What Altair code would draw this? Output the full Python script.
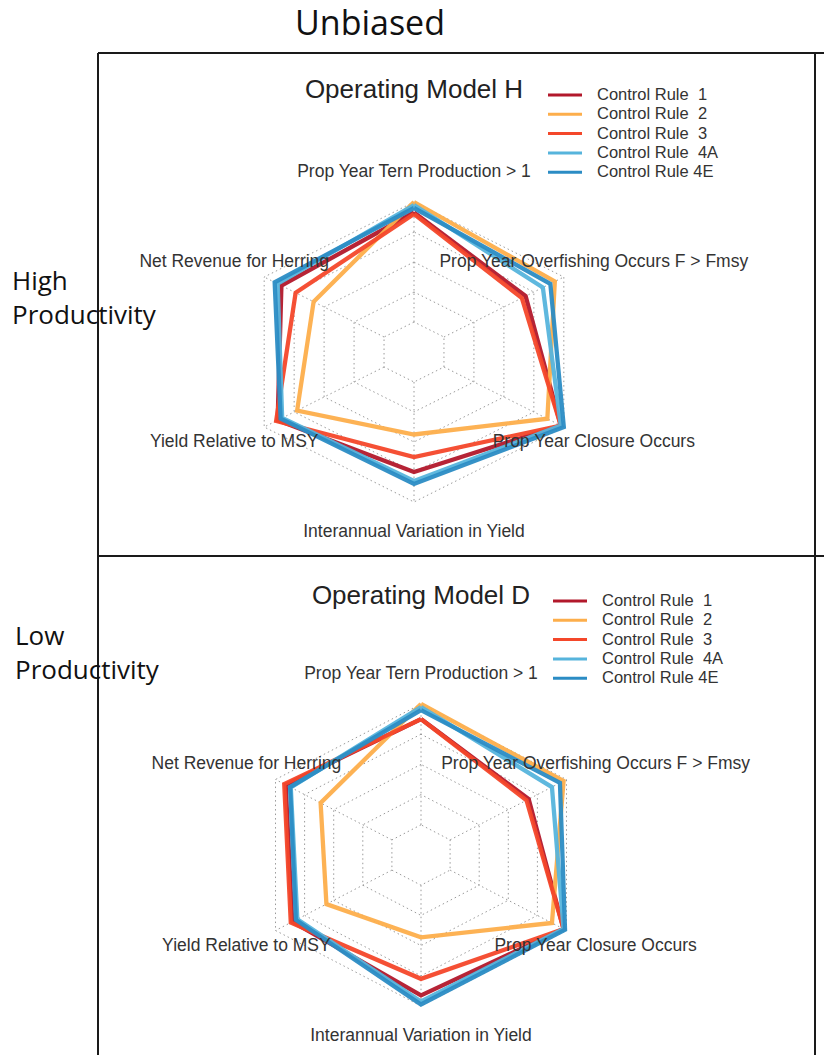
import altair as alt
import pandas as pd

W, H = 824, 1055

# ---------------- data ----------------
axis_labels = [
    "Prop Year Tern Production > 1",
    "Net Revenue for Herring",
    "Yield Relative to MSY",
    "Interannual Variation in Yield",
    "Prop Year Closure Occurs",
    "Prop Year Overfishing Occurs F > Fmsy",
]
NB = "\u00a0"
rule_names = [f"Control Rule {NB}1", f"Control Rule {NB}2", f"Control Rule {NB}3",
              f"Control Rule {NB}4A", "Control Rule 4E"]
rule_colors = ["#b2182b", "#fdae4b", "#f4472a", "#56b4dc", "#2b8cc4"]
model_names = ["Operating Model H", "Operating Model D"]

# scores (0.2 = inner ring, 1.0 = outer ring), in axis order above
h_cr1 = [0.93, 0.885, 0.91, 0.80, 0.98, 0.745]
h_cr2 = [1.00, 0.67, 0.78, 0.55, 0.89, 0.94]
h_cr3 = [0.92, 0.79, 0.92, 0.70, 0.98, 0.72]
h_cr4a = [0.98, 0.91, 0.88, 0.86, 0.98, 0.86]
h_cr4e = [0.96, 0.93, 0.89, 0.88, 1.00, 0.91]

d_cr1 = [0.90, 0.93, 0.885, 0.93, 0.98, 0.74]
d_cr2 = [1.00, 0.69, 0.65, 0.545, 0.90, 0.98]
d_cr3 = [0.90, 0.94, 0.895, 0.82, 0.98, 0.725]
d_cr4a = [0.98, 0.895, 0.85, 0.97, 0.98, 0.90]
d_cr4e = [0.96, 0.90, 0.86, 0.99, 0.99, 0.955]

ring_levels = [0.2, 0.4, 0.6, 0.8, 1.0]

series = {
    model_names[0]: [h_cr1, h_cr2, h_cr3, h_cr4a, h_cr4e],
    model_names[1]: [d_cr1, d_cr2, d_cr3, d_cr4a, d_cr4e],
}

# ---------------- layout (pixels) ----------------
layout = pd.DataFrame({
    "model": model_names,
    "cx": [414, 421], "cy": [352, 855], "rx": [173, 168], "ry": [150, 151],
    "title_y": [90, 596], "leg_x": [548, 553], "leg_y": [95, 601],
})

# ---------------- tables ----------------
rows = []
for m, lists in series.items():
    for ri, vals in enumerate(lists):
        for k in range(7):
            rows.append({"model": m, "rule": rule_names[ri], "ri": ri,
                         "k": k, "value": vals[k % 6]})
pts = pd.DataFrame(rows).merge(layout, on="model")

grid_rows = []
for m in model_names:
    for lv in ring_levels:
        for k in range(7):
            grid_rows.append({"model": m, "gid": f"{m}-{lv}", "k": k, "value": lv})
grid = pd.DataFrame(grid_rows).merge(layout, on="model")

spoke = pd.DataFrame([{"model": m, "k": k, "r0": ring_levels[0], "r1": ring_levels[-1]}
                      for m in model_names for k in range(6)]).merge(layout, on="model")

labels = pd.DataFrame([{"model": m, "k": k, "label": axis_labels[k], "value": 1.2}
                       for m in model_names for k in range(6)]).merge(layout, on="model")

legend = pd.DataFrame([{"model": m, "rule": r, "i": i}
                       for m in model_names for i, r in enumerate(rule_names)]).merge(layout, on="model")

xs = alt.Scale(domain=[0, W], nice=False, zero=False)
ys = alt.Scale(domain=[0, H], nice=False, zero=False, reverse=True)
cs = alt.Scale(domain=rule_names, range=rule_colors)

PX = "datum.cx - datum.value*datum.rx*sin(datum.k*PI/3)"
PY = "datum.cy - datum.value*datum.ry*cos(datum.k*PI/3)"

grid_layer = alt.Chart(grid).transform_calculate(px=PX, py=PY).mark_line(
    color="#9a9a9a", strokeWidth=1, strokeDash=[1.5, 3]
).encode(
    x=alt.X("px:Q", scale=xs, axis=None),
    y=alt.Y("py:Q", scale=ys, axis=None),
    detail="gid:N", order="k:Q",
)

spoke_layer = alt.Chart(spoke).transform_calculate(
    x0="datum.cx - datum.r0*datum.rx*sin(datum.k*PI/3)",
    y0="datum.cy - datum.r0*datum.ry*cos(datum.k*PI/3)",
    x1="datum.cx - datum.r1*datum.rx*sin(datum.k*PI/3)",
    y1="datum.cy - datum.r1*datum.ry*cos(datum.k*PI/3)",
).mark_rule(color="#9a9a9a", strokeWidth=1, strokeDash=[1.5, 3]).encode(
    x=alt.X("x0:Q", scale=xs, axis=None), y=alt.Y("y0:Q", scale=ys, axis=None),
    x2="x1:Q", y2="y1:Q",
)

series_layers = []
for ri, r in enumerate(rule_names):
    series_layers.append(
        alt.Chart(pts).transform_filter(f"datum.ri == {ri}").transform_calculate(px=PX, py=PY)
        .mark_line(strokeWidth=4.3, strokeJoin="miter", opacity=0.95)
        .encode(
            x=alt.X("px:Q", scale=xs, axis=None),
            y=alt.Y("py:Q", scale=ys, axis=None),
            color=alt.Color("rule:N", scale=cs, legend=None),
            detail="model:N", order="k:Q",
        )
    )

label_layer = alt.Chart(labels).transform_calculate(px=PX, py=PY).mark_text(
    font="Liberation Sans", fontSize=17.5, color="#333333", align="center", baseline="middle"
).encode(x=alt.X("px:Q", scale=xs, axis=None), y=alt.Y("py:Q", scale=ys, axis=None), text="label:N")

title_layer = alt.Chart(layout).mark_text(
    font="Liberation Sans", fontSize=26, color="#222222", align="center", baseline="middle"
).encode(x=alt.X("cx:Q", scale=xs, axis=None), y=alt.Y("title_y:Q", scale=ys, axis=None), text="model:N")

leg_line = alt.Chart(legend).transform_calculate(
    lx2="datum.leg_x + 34", ly="datum.leg_y + 19.3*datum.i"
).mark_rule(strokeWidth=3).encode(
    x=alt.X("leg_x:Q", scale=xs, axis=None), x2="lx2:Q",
    y=alt.Y("ly:Q", scale=ys, axis=None),
    color=alt.Color("rule:N", scale=cs, legend=None),
)
leg_text = alt.Chart(legend).transform_calculate(
    tx="datum.leg_x + 49", ly="datum.leg_y + 19.3*datum.i"
).mark_text(font="Liberation Sans", fontSize=16.5, color="#333333", align="left", baseline="middle").encode(
    x=alt.X("tx:Q", scale=xs, axis=None), y=alt.Y("ly:Q", scale=ys, axis=None), text="rule:N"
)

# frame lines
frame = pd.DataFrame({
    "x": [98, 98, 98, 815], "x2": [98, 824, 824, 815],
    "y": [53, 53, 556, 53], "y2": [1055, 53, 556, 1055],
})
frame_layer = alt.Chart(frame).mark_rule(color="#1a1a1a", strokeWidth=2).encode(
    x=alt.X("x:Q", scale=xs, axis=None), x2="x2:Q",
    y=alt.Y("y:Q", scale=ys, axis=None), y2="y2:Q",
)

heading = pd.DataFrame({"text": ["Unbiased"], "x": [370], "y": [25]})
row_labels = pd.DataFrame({
    "text": ["High", "Productivity", "Low", "Productivity"],
    "x": [12, 12, 15, 15],
    "y": [282, 316, 637, 671],
})
outer_center = alt.Chart(heading).mark_text(
    font="Open Sans", fontSize=34, color="#111111", align="center", baseline="middle"
).encode(x=alt.X("x:Q", scale=xs, axis=None), y=alt.Y("y:Q", scale=ys, axis=None), text="text:N")
outer_left = alt.Chart(row_labels).mark_text(
    font="Open Sans", fontSize=26, color="#111111", align="left", baseline="middle"
).encode(x=alt.X("x:Q", scale=xs, axis=None), y=alt.Y("y:Q", scale=ys, axis=None), text="text:N")

chart = alt.layer(
    grid_layer, spoke_layer, *series_layers, label_layer, title_layer,
    leg_line, leg_text, frame_layer, outer_center, outer_left
).properties(
    width=W, height=H, padding=0, autosize=alt.AutoSizeParams(type="none"), background="white"
).configure_view(stroke=None)

chart.save("out.html", embed_options={"renderer": "svg", "actions": False})
